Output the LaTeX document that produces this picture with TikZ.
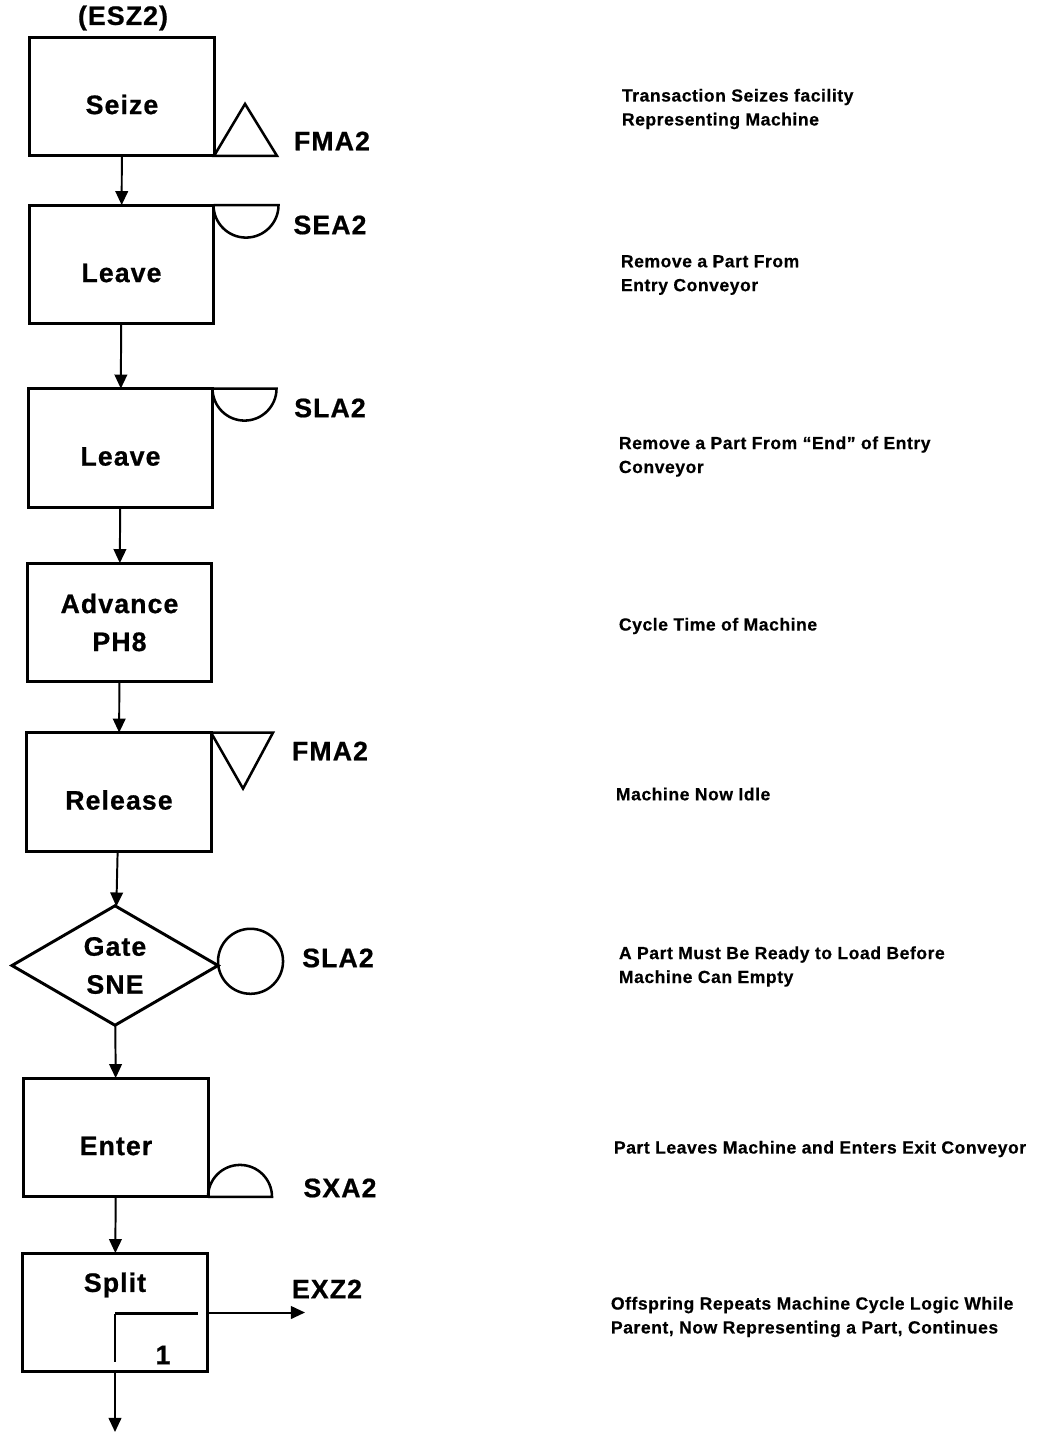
\documentclass[tikz,border=0pt]{standalone}
\usepackage{fontspec}
\setmainfont{Liberation Sans}
\newfontfamily\blockfont[LetterSpace=4,FakeBold=0.7]{Liberation Sans}
\newfontfamily\notefont[LetterSpace=3,FakeBold=0.5]{Liberation Sans}
\usetikzlibrary{positioning,arrows.meta,shapes.geometric}

\begin{document}
\begin{tikzpicture}[x=0.025cm,y=-0.025cm,
  block/.style={draw,line width=2.1pt,outer sep=0pt,inner sep=0pt,minimum width=4.6cm,minimum height=2.97cm,
    align=center,font=\blockfont\bfseries\fontsize{19}{27}\selectfont},
  block1/.style={block,text height=25pt,text depth=0pt},
  tag/.style={font=\blockfont\bfseries\fontsize{19}{27}\selectfont},
  note/.style={anchor=west,align=left,font=\notefont\bfseries\fontsize{12.5}{17}\selectfont},
  flow/.style={line width=1.4pt,-{Triangle[length=10pt,width=9pt]}},
  sym/.style={line width=1.8pt}]
  \useasboundingbox (0,0) rectangle (1043,1436);
  \node[block1] (seize) at (122,96.5) {Seize};
  \node[tag] (esz) at (123,18) {(ESZ2)};
  \node[block1] (leaveA) at (121.5,264.5) {Leave};
  \node[block1] (leaveB) at (120.5,448) {Leave};
  \node[block] (advance) at (119.5,622.5) {Advance\\PH8};
  \node[block1] (release) at (119,792) {Release};
  \node[block,diamond,minimum width=5.15cm,minimum height=2.93cm] (gate) at (115,965.5) {Gate\\SNE};
  \node[block1] (enter) at (116,1137.5) {Enter};
  \node[block] (split) at (115,1312.5) {};
  \node[tag] (splitlbl) at (115,1285) {Split};
  \node[tag] (one) at (163,1355) {1};
  \foreach \a/\b in {seize/leaveA,leaveA/leaveB,leaveB/advance,advance/release,release/gate,gate/enter,enter/split}
    \draw[flow] (\a) -- (\b);
  \coordinate (out) at (115,1432);
  \draw[flow] (split) -- (out);
  \draw[sym] (seize.south east) -- ++(63,0) -- ++(-32,-52) -- cycle;
  \draw[sym] (leaveA.north east) -- ++(65,0) arc[start angle=0,end angle=-180,radius=0.8125cm];
  \draw[sym] (leaveB.north east) -- ++(64,0) arc[start angle=0,end angle=-180,radius=0.8cm];
  \draw[sym] (release.north east) -- ++(62,0) -- ++(-30,56) -- cycle;
  \node[sym,draw,circle,minimum size=1.625cm,inner sep=0pt,outer sep=0pt,right=0pt of gate,yshift=3pt] (wait) {};
  \draw[sym] (enter.south east) -- ++(64,0) arc[start angle=0,end angle=180,radius=0.8cm];
  \coordinate (corner) at (115,1313.5);
  \draw[sym] (corner) -- ++(83,0) (corner) -- ++(0,48);
  \coordinate (exz) at (305,1312.5);
  \draw[flow] (split.east) -- (exz);
  \node[tag] (fmaA) at (332,141) {FMA2};
  \node[tag] (sea) at (330,225) {SEA2};
  \node[tag] (slaA) at (330,408) {SLA2};
  \node[tag] (fmaB) at (330,751) {FMA2};
  \node[tag] (slaB) at (338,958) {SLA2};
  \node[tag] (sxa) at (340,1188) {SXA2};
  \node[tag] (exzlbl) at (327,1289) {EXZ2};
  \node[note] (n1) at (617,109) {Transaction Seizes facility\\Representing Machine};
  \node[note] (n2) at (616,275) {Remove a Part From\\Entry Conveyor};
  \node[note] (n3) at (614,456.5) {Remove a Part From “End” of Entry\\Conveyor};
  \node[note] (n4) at (614,626) {Cycle Time of Machine};
  \node[note] (n5) at (611,794) {Machine Now Idle};
  \node[note] (n6) at (614,966.5) {A Part Must Be Ready to Load Before\\Machine Can Empty};
  \node[note] (n7) at (609,1149) {Part Leaves Machine and Enters Exit Conveyor};
  \node[note] (n8) at (606,1317) {Offspring Repeats Machine Cycle Logic While\\Parent, Now Representing a Part, Continues};
\end{tikzpicture}
\end{document}
